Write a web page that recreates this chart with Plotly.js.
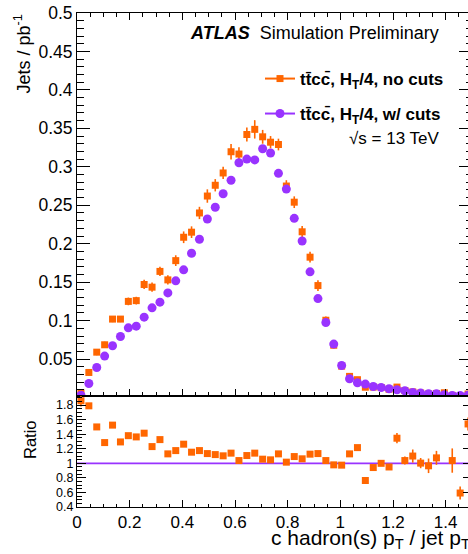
<!DOCTYPE html>
<html>
<head>
<meta charset="utf-8">
<script src="https://cdn.plot.ly/plotly-3.0.1.min.js"></script>
<style>
html, body { margin: 0; padding: 0; overflow: hidden; background: #fff; }
#chart { width: 480px; height: 554px; }
</style>
</head>
<body>
<div id="chart"></div>
<script>
// Bin centres of c hadron(s) pT / jet pT (bin width 0.03)
const binCenters = [0.015,0.045,0.075,0.105,0.135,0.165,0.195,0.225,0.255,0.285,
  0.315,0.345,0.375,0.405,0.435,0.465,0.495,0.525,0.555,0.585,
  0.615,0.645,0.675,0.705,0.735,0.765,0.795,0.825,0.855,0.885,
  0.915,0.945,0.975,1.005,1.035,1.065,1.095,1.125,1.155,1.185,
  1.215,1.245,1.275,1.305,1.335,1.365,1.395,1.425,1.455,1.485];

// ttcc, HT/4, no cuts (orange squares), Jets / pb^-1
const noCuts = [0.006,0.0326,0.059,0.0686,0.102,0.102,0.125,0.126,0.147,0.1435,
  0.164,0.153,0.178,0.2084,0.215,0.240,0.262,0.276,0.292,0.3196,
  0.3166,0.342,0.3487,0.339,0.332,0.329,0.275,0.254,0.2155,0.1825,
  0.1456,0.1005,0.068,0.0408,0.0275,0.0232,0.0134,0.0136,0.0131,0.0108,
  0.0136,0.0091,0.0073,0.0059,0.0047,0.0053,0.0062,0.0028,0.0016,0.0046];
const noCutsErr = [0.003,0.004,0.004,0.004,0.004,0.004,0.005,0.005,0.006,0.006,
  0.006,0.006,0.007,0.0076,0.0076,0.008,0.0087,0.008,0.008,0.010,
  0.009,0.009,0.012,0.009,0.008,0.0076,0.0076,0.0076,0.0076,0.007,
  0.007,0.005,0.004,0.003,0.002,0.002,0.002,0.002,0.002,0.002,
  0.002,0.002,0.002,0.002,0.002,0.002,0.002,0.002,0.002,0.002];

// ttcc, HT/4, w/ cuts (purple circles)
const withCuts = [0.003,0.0183,0.039,0.0539,0.0673,0.0794,0.0906,0.0928,0.1045,0.1166,
  0.124,0.136,0.1517,0.166,0.1876,0.2058,0.2322,0.2474,0.265,0.2825,
  0.3053,0.310,0.309,0.3235,0.318,0.2915,0.271,0.233,0.2036,0.1634,
  0.1287,0.0975,0.0695,0.0417,0.0244,0.0192,0.0175,0.0144,0.0131,0.0114,
  0.0101,0.0088,0.0066,0.0058,0.0049,0.0049,0.0036,0.0027,0.0027,0.0030];

// Ratio panel (no cuts / w/ cuts)
const ratio = [1.86,1.79,1.50,1.285,1.525,1.294,1.38,1.363,1.414,1.23,
  1.326,1.13,1.175,1.263,1.153,1.175,1.134,1.12,1.103,1.14,
  1.038,1.107,1.14,1.057,1.048,1.13,1.016,1.093,1.062,1.126,
  1.134,1.038,0.979,0.975,1.13,1.216,0.764,0.942,1.0,0.95,
  1.345,1.038,1.1,1.003,0.966,1.075,null,1.038,0.592,1.541];
const ratioErr = [0.08,0.04,0.02,0.02,0.02,0.02,0.02,0.02,0.02,0.02,
  0.02,0.02,0.02,0.02,0.02,0.02,0.02,0.02,0.02,0.02,
  0.02,0.02,0.02,0.02,0.02,0.02,0.02,0.02,0.02,0.02,
  0.02,0.02,0.02,0.02,0.03,0.03,0.03,0.03,0.03,0.04,
  0.07,0.055,0.09,0.07,0.1,0.096,null,0.167,0.09,0.09];
const ratioReference = 1;

const seriesNames = ['tt\u0304cc\u0304, H<sub>T</sub>/4, no cuts', 'tt\u0304cc\u0304, H<sub>T</sub>/4, w/ cuts'];
const ORANGE = '#ff6600';
const PURPLE = '#9933ff';
const FONT = 'Liberation Sans, Arial, sans-serif';

const traces = [
  {x: binCenters, y: noCuts, type: 'scatter', mode: 'markers', xaxis: 'x', yaxis: 'y', showlegend: false,
   marker: {symbol: 'square', size: 7, color: ORANGE},
   error_y: {type: 'data', array: noCutsErr, visible: true, width: 0, thickness: 1.6, color: ORANGE}},
  {x: binCenters, y: withCuts, type: 'scatter', mode: 'markers', xaxis: 'x', yaxis: 'y', showlegend: false,
   marker: {symbol: 'circle', size: 9, color: PURPLE}},
  {x: binCenters, y: ratio, type: 'scatter', mode: 'markers', xaxis: 'x2', yaxis: 'y2', showlegend: false,
   marker: {symbol: 'square', size: 7, color: ORANGE},
   error_y: {type: 'data', array: ratioErr, visible: true, width: 0, thickness: 1.6, color: ORANGE}},
  // legend entries
  {x: [null], y: [null], type: 'scatter', mode: 'lines+markers', name: seriesNames[0], legend: 'legend',
   xaxis: 'x', yaxis: 'y', line: {color: ORANGE, width: 2}, marker: {symbol: 'square', size: 7, color: ORANGE}},
  {x: [null], y: [null], type: 'scatter', mode: 'lines+markers', name: seriesNames[1], legend: 'legend2',
   xaxis: 'x', yaxis: 'y', line: {color: PURPLE, width: 2}, marker: {symbol: 'circle', size: 9, color: PURPLE}}
];

const split = 0.2247;
const axisCommon = {
  showline: true, linecolor: '#000', linewidth: 1, showgrid: false, zeroline: false,
  ticks: 'inside', tickcolor: '#000', tickwidth: 1
};

const layout = {
  width: 480, height: 554,
  margin: {l: 77, r: 8, t: 13, b: 47},
  paper_bgcolor: '#fff', plot_bgcolor: '#fff',
  font: {family: FONT, color: '#000'},
  xaxis: Object.assign({}, axisCommon, {
    domain: [0, 1], anchor: 'y', range: [0, 1.5], tick0: 0, dtick: 0.2, ticklen: 7,
    showticklabels: false, mirror: 'allticks', matches: 'x2',
    minor: {dtick: 0.05, ticklen: 3.5, ticks: 'inside', tickcolor: '#000'}
  }),
  yaxis: Object.assign({}, axisCommon, {
    domain: [split, 1], anchor: 'x', range: [0.002, 0.5], tick0: 0, dtick: 0.05, ticklen: 13,
    mirror: 'allticks', tickfont: {size: 17.5, family: FONT},
    minor: {dtick: 0.01, ticklen: 6.5, ticks: 'inside', tickcolor: '#000'}
  }),
  xaxis2: Object.assign({}, axisCommon, {
    domain: [0, 1], anchor: 'y2', range: [0, 1.5], tick0: 0, dtick: 0.2, ticklen: 7,
    mirror: true, tickfont: {size: 17, family: FONT},
    minor: {dtick: 0.05, ticklen: 3.5, ticks: 'inside', tickcolor: '#000'}
  }),
  yaxis2: Object.assign({}, axisCommon, {
    domain: [0, split], anchor: 'x2', range: [0.4, 1.925], tick0: 0, dtick: 0.2, ticklen: 9,
    mirror: 'allticks', tickfont: {size: 12.5, family: FONT},
    minor: {dtick: 0.05, ticklen: 4.5, ticks: 'inside', tickcolor: '#000'}
  }),
  legend: {x: 0.4633, y: 0.9028, xanchor: 'left', yanchor: 'top', bgcolor: 'rgba(0,0,0,0)',
    borderwidth: 0, font: {size: 17, weight: 'bold', family: FONT}},
  legend2: {x: 0.4633, y: 0.832, xanchor: 'left', yanchor: 'top', bgcolor: 'rgba(0,0,0,0)',
    borderwidth: 0, font: {size: 17, weight: 'bold', family: FONT}},
  shapes: [
    {type: 'line', xref: 'x2 domain', yref: 'y2', x0: 0, x1: 1, y0: ratioReference, y1: ratioReference,
     line: {color: PURPLE, width: 1.6}, layer: 'below'}
  ],
  annotations: [
    {text: '<b><i>ATLAS</i></b>\u00a0\u00a0Simulation Preliminary', xref: 'paper', yref: 'paper',
     x: 0.281, y: 0.9595, xanchor: 'left', yanchor: 'middle', showarrow: false, font: {size: 18, family: FONT}},
    {text: '\u221as = 13 TeV', xref: 'paper', yref: 'paper',
     x: 0.683, y: 0.745, xanchor: 'left', yanchor: 'middle', showarrow: false, font: {size: 17, family: FONT}},
    {text: 'Jets / pb<sup>-1</sup>', xref: 'paper', yref: 'paper', x: 0, y: 1, xshift: -54,
     xanchor: 'center', yanchor: 'top', textangle: -90, showarrow: false, font: {size: 18, family: FONT}},
    {text: 'Ratio', xref: 'paper', yref: 'paper', x: 0, y: 0.1356, xshift: -47,
     xanchor: 'center', yanchor: 'middle', textangle: -90, showarrow: false, font: {size: 16.5, family: FONT}},
    {text: 'c hadron(s) p<sub>T</sub> / jet p<sub>T</sub>', xref: 'paper', yref: 'paper', x: 1, y: -0.0951,
     xanchor: 'right', yanchor: 'bottom', showarrow: false, font: {size: 21, family: FONT}}
  ]
};

Plotly.newPlot('chart', traces, layout, {staticPlot: true, displayModeBar: false});
</script>
</body>
</html>
